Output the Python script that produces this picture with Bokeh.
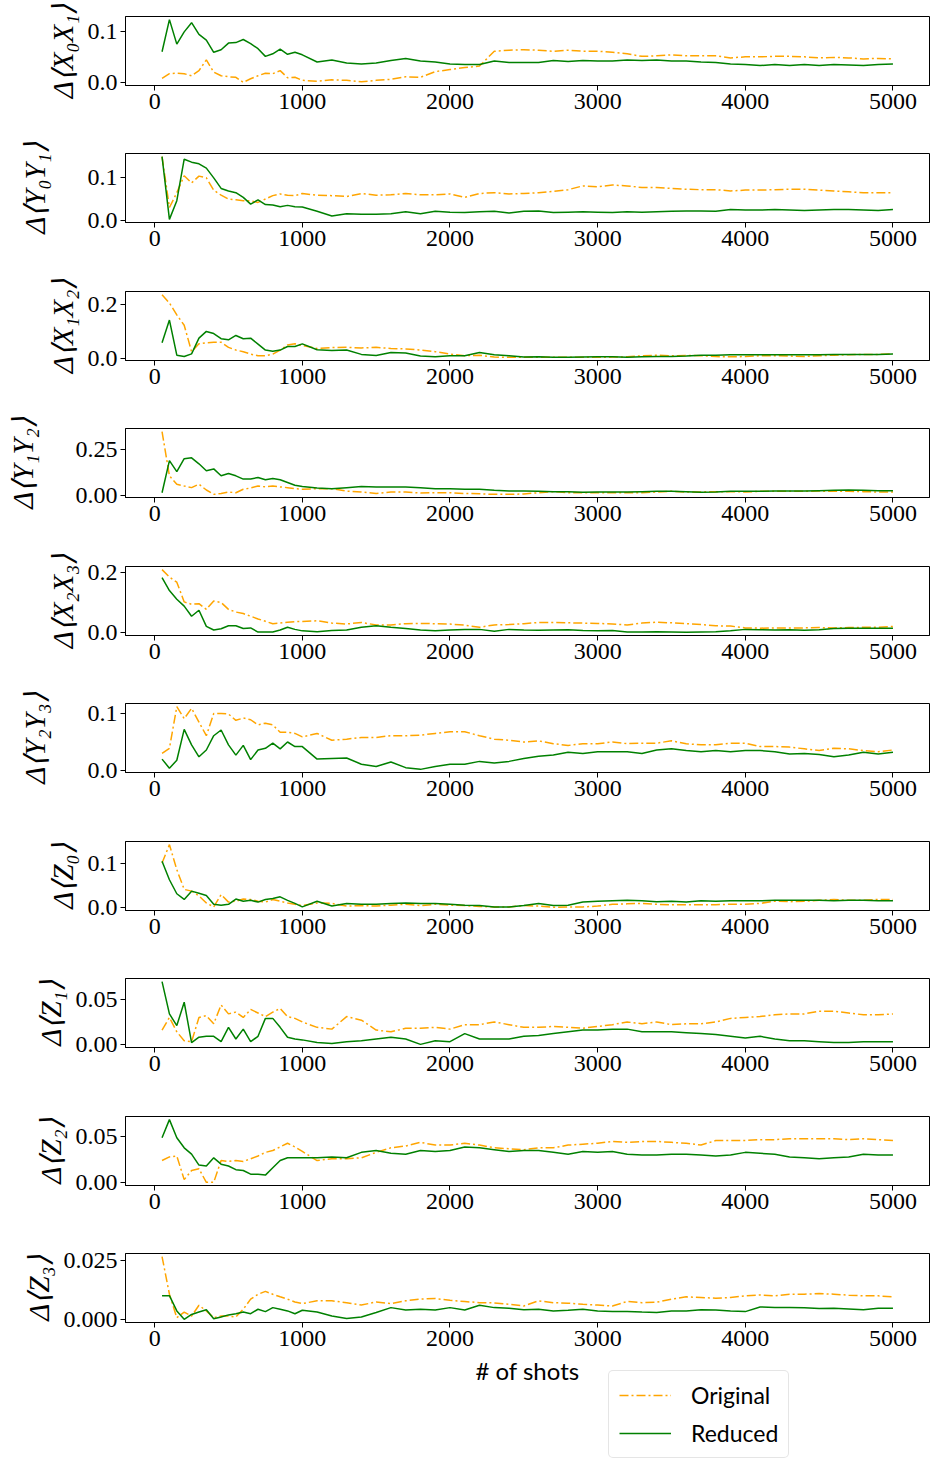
from bokeh.plotting import figure
from bokeh.models import Range1d, FixedTicker, Legend, LegendItem, Label
from bokeh.layouts import column
from bokeh.embed import file_html
from bokeh.resources import INLINE

shots = [50, 100, 150, 200, 250, 300, 350, 400, 450, 500, 550, 600, 650, 700, 750, 800, 850, 900, 950, 1000,
         1100, 1200, 1300, 1400, 1500, 1600, 1700, 1800, 1900, 2000,
         2100, 2200, 2300, 2400, 2500, 2600, 2700, 2800, 2900, 3000,
         3100, 3200, 3300, 3400, 3500, 3600, 3700, 3800, 3900, 4000,
         4100, 4200, 4300, 4400, 4500, 4600, 4700, 4800, 4900, 5000]

labels = ["Δ⟨X₀X₁⟩", "Δ⟨Y₀Y₁⟩", "Δ⟨X₁X₂⟩", "Δ⟨Y₁Y₂⟩", "Δ⟨X₂X₃⟩",
          "Δ⟨Y₂Y₃⟩", "Δ⟨Z₀⟩", "Δ⟨Z₁⟩", "Δ⟨Z₂⟩", "Δ⟨Z₃⟩"]

ytick_labels = [["0.0", "0.1"], ["0.0", "0.1"], ["0.0", "0.2"], ["0.00", "0.25"], ["0.0", "0.2"],
                ["0.0", "0.1"], ["0.0", "0.1"], ["0.00", "0.05"], ["0.00", "0.05"], ["0.000", "0.025"]]
xtick_labels = ["0", "1000", "2000", "3000", "4000", "5000"]
series_names = ["Original", "Reduced"]
xlabel = "# of shots"

orig_x0x1 = [0.009, 0.018, 0.019, 0.018, 0.014, 0.024, 0.045, 0.021, 0.014, 0.012, 0.011, 0.001, 0.008, 0.014, 0.019, 0.018, 0.024, 0.010, 0.011, 0.005,
             0.003, 0.006, 0.005, 0.002, 0.005, 0.007, 0.012, 0.011, 0.022, 0.026,
             0.030, 0.033, 0.062, 0.064, 0.065, 0.064, 0.062, 0.064, 0.062, 0.062,
             0.060, 0.057, 0.052, 0.053, 0.055, 0.053, 0.053, 0.053, 0.049, 0.051,
             0.051, 0.052, 0.052, 0.051, 0.049, 0.050, 0.049, 0.047, 0.048, 0.047]
red_x0x1 = [0.061, 0.124, 0.076, 0.100, 0.118, 0.095, 0.084, 0.060, 0.065, 0.078, 0.079, 0.085, 0.077, 0.067, 0.052, 0.057, 0.066, 0.056, 0.060, 0.055,
            0.041, 0.045, 0.039, 0.037, 0.039, 0.044, 0.048, 0.043, 0.041, 0.037,
            0.036, 0.036, 0.043, 0.040, 0.040, 0.040, 0.044, 0.042, 0.044, 0.043,
            0.043, 0.045, 0.044, 0.045, 0.043, 0.043, 0.041, 0.040, 0.037, 0.036,
            0.034, 0.036, 0.034, 0.036, 0.034, 0.036, 0.035, 0.034, 0.036, 0.037]

orig_y0y1 = [0.150, 0.030, 0.065, 0.105, 0.088, 0.104, 0.100, 0.071, 0.059, 0.050, 0.048, 0.046, 0.046, 0.042, 0.050, 0.058, 0.062, 0.059, 0.058, 0.063,
             0.059, 0.058, 0.056, 0.063, 0.059, 0.060, 0.063, 0.060, 0.060, 0.062,
             0.054, 0.063, 0.065, 0.062, 0.063, 0.065, 0.068, 0.072, 0.081, 0.079,
             0.083, 0.081, 0.077, 0.077, 0.075, 0.073, 0.072, 0.072, 0.069, 0.071,
             0.071, 0.072, 0.073, 0.073, 0.071, 0.069, 0.067, 0.065, 0.065, 0.065]
red_y0y1 = [0.150, 0.002, 0.046, 0.144, 0.137, 0.133, 0.123, 0.100, 0.075, 0.069, 0.065, 0.054, 0.038, 0.048, 0.037, 0.036, 0.032, 0.035, 0.032, 0.031,
            0.021, 0.010, 0.015, 0.014, 0.014, 0.015, 0.020, 0.015, 0.021, 0.019,
            0.018, 0.020, 0.021, 0.017, 0.021, 0.022, 0.018, 0.019, 0.020, 0.019,
            0.018, 0.020, 0.019, 0.020, 0.021, 0.022, 0.022, 0.021, 0.025, 0.024,
            0.024, 0.025, 0.024, 0.023, 0.024, 0.025, 0.025, 0.024, 0.023, 0.025]

orig_x1x2 = [0.235, 0.204, 0.160, 0.122, 0.024, 0.053, 0.057, 0.059, 0.059, 0.040, 0.030, 0.024, 0.015, 0.009, 0.009, 0.015, 0.030, 0.049, 0.053, 0.047,
             0.036, 0.039, 0.040, 0.038, 0.040, 0.036, 0.034, 0.030, 0.024, 0.015,
             0.009, 0.011, 0.004, 0.003, 0.003, 0.003, 0.003, 0.003, 0.003, 0.003,
             0.004, 0.005, 0.009, 0.011, 0.009, 0.010, 0.009, 0.006, 0.005, 0.006,
             0.009, 0.009, 0.008, 0.006, 0.009, 0.011, 0.013, 0.014, 0.014, 0.016]
red_x1x2 = [0.057, 0.141, 0.011, 0.006, 0.016, 0.074, 0.099, 0.091, 0.072, 0.068, 0.084, 0.072, 0.074, 0.052, 0.030, 0.026, 0.030, 0.043, 0.043, 0.053,
            0.031, 0.028, 0.030, 0.014, 0.010, 0.021, 0.019, 0.008, 0.005, 0.009,
            0.009, 0.021, 0.013, 0.009, 0.004, 0.005, 0.003, 0.003, 0.004, 0.005,
            0.005, 0.003, 0.005, 0.006, 0.006, 0.008, 0.011, 0.011, 0.013, 0.013,
            0.013, 0.013, 0.013, 0.013, 0.013, 0.014, 0.014, 0.014, 0.014, 0.015]

orig_y1y2 = [0.349, 0.106, 0.060, 0.050, 0.041, 0.060, 0.028, 0.004, 0.009, 0.017, 0.013, 0.032, 0.039, 0.050, 0.045, 0.050, 0.045, 0.041, 0.035, 0.032,
             0.035, 0.035, 0.022, 0.017, 0.009, 0.017, 0.017, 0.011, 0.013, 0.013,
             0.009, 0.007, 0.004, 0.004, 0.006, 0.013, 0.019, 0.013, 0.013, 0.013,
             0.013, 0.013, 0.013, 0.017, 0.021, 0.017, 0.017, 0.019, 0.019, 0.017,
             0.021, 0.021, 0.021, 0.021, 0.022, 0.021, 0.021, 0.019, 0.017, 0.017]
red_y1y2 = [0.013, 0.190, 0.129, 0.200, 0.205, 0.172, 0.134, 0.144, 0.106, 0.119, 0.106, 0.088, 0.088, 0.097, 0.084, 0.091, 0.084, 0.069, 0.054, 0.047,
            0.039, 0.035, 0.041, 0.047, 0.045, 0.045, 0.045, 0.041, 0.035, 0.035,
            0.032, 0.032, 0.026, 0.022, 0.022, 0.021, 0.019, 0.019, 0.015, 0.017,
            0.017, 0.017, 0.019, 0.021, 0.021, 0.019, 0.015, 0.017, 0.021, 0.021,
            0.021, 0.022, 0.022, 0.022, 0.024, 0.026, 0.028, 0.026, 0.024, 0.024]

orig_x2x3 = [0.211, 0.186, 0.169, 0.103, 0.095, 0.097, 0.078, 0.106, 0.101, 0.078, 0.069, 0.064, 0.055, 0.046, 0.038, 0.030, 0.032, 0.035, 0.037, 0.037,
             0.040, 0.032, 0.029, 0.034, 0.026, 0.026, 0.030, 0.031, 0.030, 0.029,
             0.025, 0.018, 0.026, 0.027, 0.030, 0.034, 0.034, 0.033, 0.032, 0.031,
             0.029, 0.026, 0.032, 0.035, 0.033, 0.030, 0.027, 0.023, 0.022, 0.016,
             0.015, 0.016, 0.016, 0.016, 0.017, 0.016, 0.017, 0.018, 0.018, 0.021]
red_x2x3 = [0.184, 0.141, 0.112, 0.089, 0.055, 0.075, 0.021, 0.009, 0.013, 0.023, 0.023, 0.014, 0.016, 0.002, 0.002, 0.002, 0.009, 0.018, 0.011, 0.006,
            0.003, 0.007, 0.009, 0.018, 0.023, 0.018, 0.014, 0.009, 0.006, 0.009,
            0.011, 0.011, 0.005, 0.011, 0.009, 0.008, 0.009, 0.010, 0.007, 0.006,
            0.007, 0.002, 0.002, 0.003, 0.002, 0.001, 0.002, 0.003, 0.006, 0.011,
            0.010, 0.009, 0.010, 0.008, 0.010, 0.014, 0.015, 0.015, 0.015, 0.015]

orig_y2y3 = [0.030, 0.039, 0.112, 0.091, 0.109, 0.085, 0.061, 0.100, 0.100, 0.099, 0.088, 0.092, 0.089, 0.080, 0.083, 0.080, 0.067, 0.067, 0.065, 0.059,
             0.065, 0.053, 0.055, 0.058, 0.058, 0.061, 0.061, 0.062, 0.065, 0.068,
             0.068, 0.061, 0.055, 0.053, 0.050, 0.052, 0.047, 0.044, 0.047, 0.047,
             0.050, 0.047, 0.048, 0.048, 0.052, 0.047, 0.045, 0.045, 0.048, 0.048,
             0.042, 0.042, 0.041, 0.038, 0.035, 0.039, 0.038, 0.035, 0.033, 0.036]
red_y2y3 = [0.020, 0.004, 0.018, 0.072, 0.045, 0.024, 0.036, 0.061, 0.071, 0.045, 0.027, 0.044, 0.019, 0.036, 0.039, 0.048, 0.038, 0.050, 0.042, 0.042,
            0.020, 0.021, 0.022, 0.011, 0.007, 0.015, 0.005, 0.002, 0.007, 0.011,
            0.011, 0.016, 0.013, 0.016, 0.021, 0.025, 0.027, 0.032, 0.030, 0.033,
            0.033, 0.033, 0.030, 0.036, 0.038, 0.035, 0.033, 0.035, 0.033, 0.035,
            0.035, 0.033, 0.029, 0.030, 0.028, 0.024, 0.027, 0.032, 0.029, 0.032]

orig_z0 = [0.102, 0.144, 0.087, 0.042, 0.038, 0.027, 0.011, 0.002, 0.030, 0.013, 0.015, 0.020, 0.019, 0.015, 0.013, 0.019, 0.015, 0.011, 0.008, 0.005,
           0.011, 0.010, 0.004, 0.005, 0.004, 0.006, 0.008, 0.005, 0.008, 0.006,
           0.005, 0.003, 0.002, 0.002, 0.005, 0.004, 0.001, 0.002, 0.002, 0.004,
           0.008, 0.009, 0.010, 0.008, 0.007, 0.007, 0.007, 0.007, 0.008, 0.008,
           0.010, 0.015, 0.014, 0.015, 0.017, 0.019, 0.017, 0.017, 0.019, 0.019]
red_z0 = [0.106, 0.064, 0.032, 0.019, 0.038, 0.033, 0.028, 0.008, 0.006, 0.008, 0.020, 0.015, 0.017, 0.013, 0.019, 0.021, 0.025, 0.017, 0.010, 0.002,
          0.015, 0.004, 0.010, 0.008, 0.008, 0.010, 0.011, 0.010, 0.010, 0.008,
          0.006, 0.005, 0.002, 0.002, 0.005, 0.010, 0.005, 0.006, 0.013, 0.015,
          0.016, 0.017, 0.016, 0.014, 0.015, 0.013, 0.016, 0.015, 0.016, 0.016,
          0.016, 0.017, 0.017, 0.017, 0.017, 0.016, 0.017, 0.017, 0.016, 0.016]

orig_z1 = [0.016, 0.030, 0.014, 0.004, 0.003, 0.030, 0.032, 0.023, 0.044, 0.034, 0.036, 0.030, 0.039, 0.035, 0.031, 0.036, 0.040, 0.031, 0.029, 0.025,
           0.019, 0.017, 0.031, 0.027, 0.016, 0.014, 0.018, 0.018, 0.019, 0.017,
           0.022, 0.022, 0.025, 0.022, 0.019, 0.019, 0.020, 0.019, 0.018, 0.020,
           0.022, 0.025, 0.023, 0.025, 0.022, 0.023, 0.023, 0.025, 0.029, 0.030,
           0.031, 0.033, 0.034, 0.034, 0.037, 0.037, 0.035, 0.033, 0.033, 0.034]
red_z1 = [0.070, 0.034, 0.021, 0.047, 0.002, 0.008, 0.009, 0.009, 0.003, 0.019, 0.006, 0.017, 0.003, 0.009, 0.029, 0.029, 0.019, 0.008, 0.006, 0.005,
          0.002, 0.001, 0.003, 0.004, 0.006, 0.008, 0.006, 0.000, 0.004, 0.003,
          0.012, 0.006, 0.006, 0.006, 0.009, 0.010, 0.012, 0.014, 0.016, 0.016,
          0.017, 0.017, 0.014, 0.014, 0.014, 0.013, 0.012, 0.011, 0.009, 0.007,
          0.009, 0.006, 0.004, 0.004, 0.003, 0.002, 0.002, 0.003, 0.003, 0.003]

orig_z2 = [0.024, 0.028, 0.029, 0.003, 0.013, 0.015, 0.000, 0.000, 0.024, 0.023, 0.024, 0.023, 0.026, 0.029, 0.033, 0.035, 0.039, 0.043, 0.039, 0.034,
           0.024, 0.026, 0.026, 0.027, 0.033, 0.038, 0.040, 0.044, 0.041, 0.041,
           0.043, 0.041, 0.038, 0.037, 0.036, 0.038, 0.038, 0.041, 0.042, 0.043,
           0.045, 0.044, 0.045, 0.045, 0.044, 0.043, 0.041, 0.046, 0.046, 0.046,
           0.047, 0.047, 0.048, 0.048, 0.048, 0.048, 0.047, 0.048, 0.047, 0.046]
red_z2 = [0.049, 0.069, 0.049, 0.038, 0.031, 0.019, 0.018, 0.027, 0.020, 0.018, 0.014, 0.013, 0.009, 0.009, 0.008, 0.016, 0.024, 0.027, 0.027, 0.027,
          0.027, 0.028, 0.027, 0.033, 0.035, 0.032, 0.031, 0.035, 0.034, 0.035,
          0.039, 0.038, 0.036, 0.034, 0.035, 0.035, 0.033, 0.031, 0.034, 0.033,
          0.034, 0.031, 0.030, 0.030, 0.031, 0.031, 0.030, 0.029, 0.030, 0.033,
          0.032, 0.031, 0.028, 0.027, 0.026, 0.027, 0.028, 0.031, 0.030, 0.030]

orig_z3 = [0.0267, 0.0107, 0.0007, 0.0031, 0.0014, 0.0060, 0.0036, 0.0007, 0.0014, 0.0014, 0.0010, 0.0043, 0.0086, 0.0107, 0.0119, 0.0107, 0.0096, 0.0086, 0.0074, 0.0067,
           0.0079, 0.0079, 0.0071, 0.0061, 0.0074, 0.0067, 0.0079, 0.0086, 0.0089, 0.0081,
           0.0076, 0.0071, 0.0070, 0.0064, 0.0057, 0.0079, 0.0071, 0.0069, 0.0064, 0.0061,
           0.0057, 0.0076, 0.0071, 0.0073, 0.0086, 0.0096, 0.0093, 0.0090, 0.0093, 0.0100,
           0.0104, 0.0100, 0.0107, 0.0107, 0.0110, 0.0107, 0.0103, 0.0100, 0.0100, 0.0096]
red_z3 = [0.0100, 0.0101, 0.0036, 0.0000, 0.0021, 0.0031, 0.0041, 0.0003, 0.0010, 0.0019, 0.0024, 0.0031, 0.0024, 0.0043, 0.0033, 0.0050, 0.0043, 0.0036, 0.0024, 0.0039,
          0.0031, 0.0014, 0.0004, 0.0010, 0.0029, 0.0050, 0.0040, 0.0043, 0.0040, 0.0050,
          0.0040, 0.0060, 0.0050, 0.0047, 0.0041, 0.0043, 0.0036, 0.0039, 0.0043, 0.0036,
          0.0033, 0.0034, 0.0031, 0.0029, 0.0036, 0.0036, 0.0041, 0.0040, 0.0036, 0.0033,
          0.0053, 0.0051, 0.0050, 0.0049, 0.0046, 0.0047, 0.0044, 0.0041, 0.0047, 0.0047]

original = [orig_x0x1, orig_y0y1, orig_x1x2, orig_y1y2, orig_x2x3, orig_y2y3, orig_z0, orig_z1, orig_z2, orig_z3]
reduced = [red_x0x1, red_y0y1, red_x1x2, red_y1y2, red_x2x3, red_y2y3, red_z0, red_z1, red_z2, red_z3]

# ---- styles ----
ORANGE = "#FFA500"
GREEN = "#008000"
DASHDOT = "9 3 2 3"
SERIF = "Liberation Serif"
SANS = "Lato"
LABEL_STANDOFF = [6, 34, 6, 34, 6, 34, 6, 6, 6, 6]
LEFT = 125
FRAME_W = 804

xpad = 0.05 * (max(shots) - min(shots))
figs = []
n = len(labels)
for i in range(n):
    last = i == n - 1
    lo = min(min(original[i]), min(reduced[i]))
    hi = max(max(original[i]), max(reduced[i]))
    ypad = 0.05 * (hi - lo)
    p = figure(frame_width=FRAME_W, frame_height=69,
               min_border_left=LEFT, min_border_right=1,
               min_border_top=(16 if i == 0 else 30),
               min_border_bottom=(34 if last else (38 if i % 2 == 0 else 39)),
               x_range=Range1d(min(shots) - xpad, max(shots) + xpad),
               y_range=Range1d(lo - ypad, hi + ypad),
               output_backend="svg", toolbar_location=None, tools="")
    p.xgrid.visible = False
    p.ygrid.visible = False
    p.outline_line_color = "black"
    p.outline_line_alpha = 1.0
    p.outline_line_width = 1
    p.background_fill_color = "white"
    p.border_fill_color = "white"

    xt = [float(s) for s in xtick_labels]
    p.xaxis.ticker = FixedTicker(ticks=xt)
    p.xaxis.major_label_overrides = {v: s for v, s in zip(xt, xtick_labels)}
    yt = [float(s) for s in ytick_labels[i]]
    p.yaxis.ticker = FixedTicker(ticks=yt)
    p.yaxis.major_label_overrides = {v: s for v, s in zip(yt, ytick_labels[i])}

    for ax in (p.xaxis[0], p.yaxis[0]):
        ax.axis_line_color = "black"
        ax.major_tick_line_color = "black"
        ax.minor_tick_line_color = None
        ax.major_tick_out = 5
        ax.major_tick_in = 0
        ax.major_label_text_font = SERIF
        ax.major_label_text_font_size = "24px"
        ax.major_label_text_color = "black"
        ax.major_label_standoff = 3

    p.yaxis.axis_label = labels[i]
    p.yaxis.axis_label_text_font = SERIF
    p.yaxis.axis_label_text_font_style = "italic"
    p.yaxis.axis_label_text_font_size = "29px"
    p.yaxis.axis_label_text_color = "black"
    p.yaxis.axis_label_standoff = LABEL_STANDOFF[i]

    p.line(shots, original[i], line_color=ORANGE, line_width=1.5, line_dash=DASHDOT)
    p.line(shots, reduced[i], line_color=GREEN, line_width=1.5)
    figs.append(p)

# bottom strip: x-axis title and legend
leg_fig = figure(frame_width=FRAME_W, frame_height=104, x_axis_type=None, y_axis_type=None,
                 x_range=Range1d(0, 1), y_range=Range1d(0, 1),
                 min_border_left=LEFT, min_border_right=1,
                 min_border_top=0, min_border_bottom=0,
                 output_backend="svg", toolbar_location=None, tools="")
leg_fig.outline_line_color = None
leg_fig.xgrid.visible = False
leg_fig.ygrid.visible = False
leg_fig.background_fill_color = "white"
leg_fig.border_fill_color = "white"

leg_fig.add_layout(Label(x=FRAME_W / 2, y=90, x_units="screen", y_units="screen", text=xlabel,
                         text_font=SANS, text_font_size="24px", text_color="black",
                         text_align="center", text_baseline="middle"))

nan = float("nan")
r_o = leg_fig.line(x=[nan], y=[nan], line_color=ORANGE, line_width=1.5, line_dash=DASHDOT)
r_g = leg_fig.line(x=[nan], y=[nan], line_color=GREEN, line_width=1.5)
legend = Legend(items=[LegendItem(label=series_names[0], renderers=[r_o]),
                       LegendItem(label=series_names[1], renderers=[r_g])],
                location=(608 - LEFT, 2))
legend.label_text_font = SANS
legend.label_text_font_size = "23px"
legend.label_text_color = "black"
legend.glyph_width = 52
legend.glyph_height = 24
legend.label_height = 24
legend.label_standoff = 20
legend.spacing = 10
legend.padding = 10
legend.margin = 0
legend.border_line_color = "#cccccc"
legend.border_line_width = 1
legend.background_fill_color = "white"
legend.background_fill_alpha = 1.0
try:
    legend.border_radius = 5
except Exception:
    pass
leg_fig.add_layout(legend)

layout = column(*figs, leg_fig, spacing=0)
open("out.html", "w").write(file_html(layout, INLINE))
